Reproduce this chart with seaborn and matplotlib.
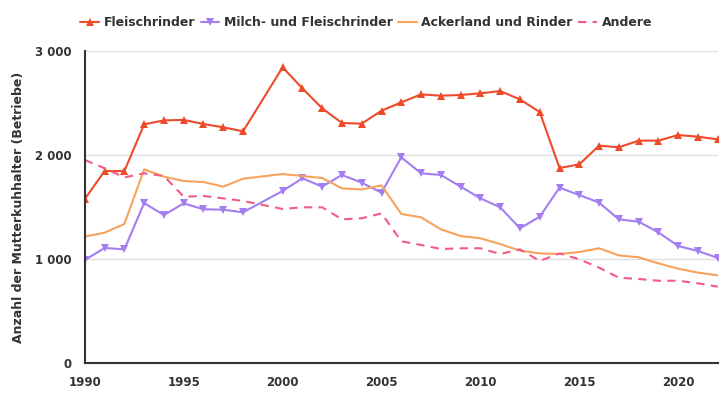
import numpy as np
import pandas as pd
import matplotlib
matplotlib.use("Agg")
import matplotlib.pyplot as plt
import seaborn as sns
from matplotlib.ticker import FuncFormatter

# Jahre (1999 fehlt in der Reihe)
years = list(range(1990, 1999)) + list(range(2000, 2023))

fleischrinder = [1577, 1846, 1846, 2295, 2333, 2337, 2298, 2266, 2228,
                 2843, 2641, 2449, 2308, 2301, 2426, 2506, 2583, 2570, 2577,
                 2593, 2615, 2535, 2413, 1875, 1910, 2090, 2074, 2138, 2138,
                 2192, 2176, 2150]
milch_fleisch = [990, 1106, 1093, 1538, 1423, 1535, 1478, 1474, 1449,
                 1654, 1776, 1696, 1808, 1734, 1638, 1978, 1824, 1808, 1696,
                 1583, 1497, 1295, 1407, 1686, 1615, 1542, 1381, 1359, 1256,
                 1125, 1077, 1010]
ackerland = [1215, 1253, 1337, 1862, 1792, 1750, 1740, 1696, 1772,
             1817, 1798, 1779, 1679, 1669, 1708, 1433, 1401, 1285, 1221,
             1199, 1144, 1080, 1054, 1048, 1067, 1103, 1035, 1016, 958,
             907, 869, 843]
andere = [1952, 1872, 1785, 1824, 1798, 1599, 1606, 1583, 1558,
          1481, 1497, 1497, 1381, 1391, 1439, 1170, 1135, 1096, 1103,
          1103, 1048, 1093, 981, 1054, 997, 917, 820, 808, 791,
          791, 766, 734]

series_names = ["Fleischrinder", "Milch- und Fleischrinder",
                "Ackerland und Rinder", "Andere"]
series_values = [fleischrinder, milch_fleisch, ackerland, andere]

styles = {
    "Fleischrinder": dict(color="#ee4b2b", marker="^", linestyle="-"),
    "Milch- und Fleischrinder": dict(color="#a47ef0", marker="v", linestyle="-"),
    "Ackerland und Rinder": dict(color="#f7a35c", marker=None, linestyle="-"),
    "Andere": dict(color="#f15c80", marker=None, linestyle=(0, (4, 3))),
}

sns.set_style("white")
plt.rcParams["font.family"] = ["DejaVu Sans"]

fig = plt.figure(figsize=(7.25, 4.0), dpi=100)
ax = fig.add_axes([0.117, 0.0925, 0.873, 0.78])

for name, values in zip(series_names, series_values):
    df = pd.DataFrame({"Jahr": years, "Wert": values})
    st = styles[name]
    sns.lineplot(
        data=df, x="Jahr", y="Wert", ax=ax, label=name,
        color=st["color"], linewidth=1.5, linestyle=st["linestyle"],
        marker=st["marker"], markersize=6, markeredgewidth=0,
    )

ax.set_xlim(1990, 2022)
ax.set_ylim(0, 3000)
ax.set_xticks([1990, 1995, 2000, 2005, 2010, 2015, 2020])
ax.set_yticks([0, 1000, 2000, 3000])
ax.yaxis.set_major_formatter(FuncFormatter(lambda v, p: f"{int(v):,}".replace(",", " ")))
ax.grid(axis="y", color="#e0e0e0", linewidth=1)
ax.set_axisbelow(True)

for side in ["top", "right"]:
    ax.spines[side].set_visible(False)
for side in ["left", "bottom"]:
    ax.spines[side].set_color("#333333")
    ax.spines[side].set_linewidth(1.5)

ax.tick_params(axis="both", which="major", direction="out", length=6, width=1.3,
               color="#333333", labelsize=8.5, labelcolor="#333333")
for lbl in ax.get_xticklabels() + ax.get_yticklabels():
    lbl.set_fontweight("bold")

ax.set_xlabel("")
ax.set_ylabel("Anzahl der Mutterkuhhalter (Betriebe)", fontsize=9, fontweight="bold",
              color="#333333", labelpad=7)

handles, labels = ax.get_legend_handles_labels()
ax.get_legend().remove()
leg = fig.legend(handles, labels, loc="center", bbox_to_anchor=(0.505, 0.943), ncol=4,
                 frameon=False, fontsize=9, handlelength=1.5, handletextpad=0.35,
                 columnspacing=0.45)
for t in leg.get_texts():
    t.set_fontweight("bold")
    t.set_color("#333333")

fig.savefig("out.png", dpi=100)
